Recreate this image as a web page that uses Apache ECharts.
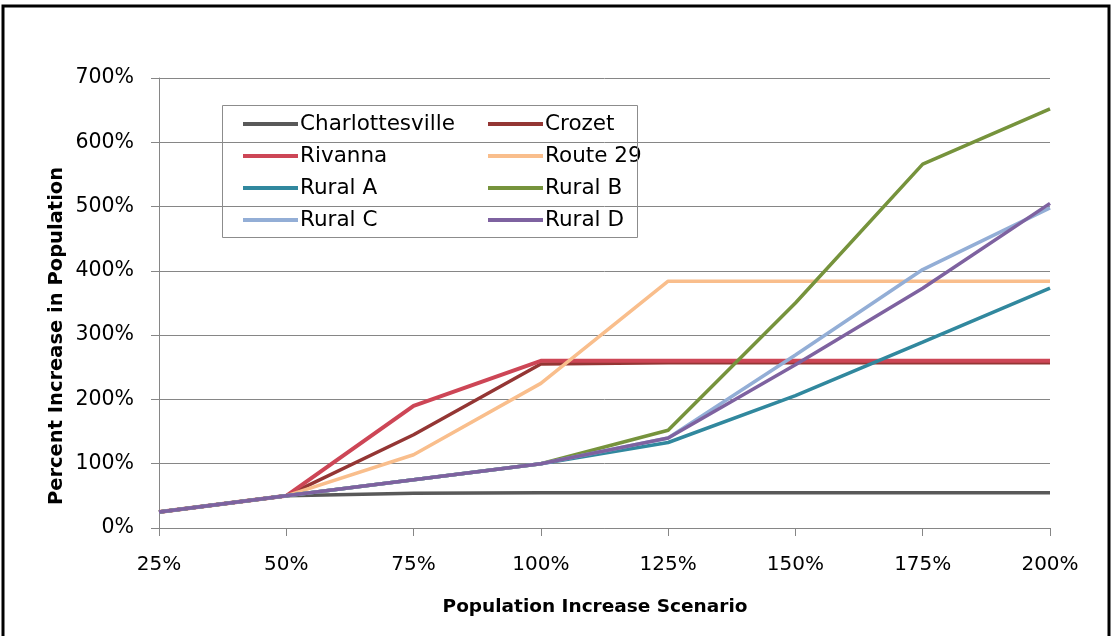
<!DOCTYPE html>
<html>
<head>
<meta charset="utf-8">
<script src="https://cdn.jsdelivr.net/npm/echarts@6/dist/echarts.min.js"></script>
<style>
html,body{margin:0;padding:0;background:#fff;}
#chart{width:1112px;height:636px;}
</style>
</head>
<body>
<div id="chart"></div>
<script>
const categories = ['25%','50%','75%','100%','125%','150%','175%','200%'];
const seriesNames = ['Charlottesville','Crozet','Rivanna','Route 29','Rural A','Rural B','Rural C','Rural D'];
const charlottesville = [25, 50, 54, 55, 55, 55, 55, 55];
const crozet = [25, 50, 145, 255, 257, 257, 257, 257];
const rivanna = [25, 50, 190, 260, 260, 260, 260, 260];
const route29 = [25, 50, 114, 225, 384, 384, 384, 384];
const ruralA = [25, 50, 75, 100, 133, 206, 289, 373];
const ruralB = [25, 50, 75, 100, 152, 350, 566, 652];
const ruralC = [25, 50, 75, 100, 140, 269, 402, 498];
const ruralD = [25, 50, 75, 100, 140, 254, 373, 505];
const yTicks = [0, 100, 200, 300, 400, 500, 600, 700];

const seriesData = [charlottesville, crozet, rivanna, route29, ruralA, ruralB, ruralC, ruralD];
const colors = ['#595959','#943634','#CD4656','#F9BE8C','#31889E','#76933C','#93AED6','#7E62A0'];
const widths = [3.5, 3.5, 4, 3.5, 3.5, 3.5, 3.5, 3.5];
const FONT = '"DejaVu Sans"';

const chart = echarts.init(document.getElementById('chart'));
const legendBase = {
  orient: 'vertical', top: 113, padding: 0,
  icon: 'rect', itemWidth: 55, itemHeight: 4, itemGap: 10,
  textStyle: { color: '#000', fontSize: 21.5, lineHeight: 22, fontFamily: FONT, padding: [0, 0, 0, -3] }
};
const option = {
  backgroundColor: '#ffffff',
  animation: false,
  color: colors,
  grid: { left: 159, right: 62, top: 78, bottom: 108, containLabel: false },
  xAxis: {
    type: 'category',
    data: categories,
    boundaryGap: false,
    axisLine: { lineStyle: { color: '#868686', width: 1 } },
    axisTick: { show: true, length: 8, inside: false, alignWithLabel: true, lineStyle: { color: '#868686' } },
    axisLabel: { color: '#000', fontSize: 20, fontFamily: FONT, margin: 27 },
    splitLine: { show: false }
  },
  yAxis: {
    type: 'value',
    min: yTicks[0],
    max: yTicks[yTicks.length - 1],
    interval: 100,
    axisLine: { show: true, lineStyle: { color: '#868686', width: 1 } },
    axisTick: { show: true, length: 8, lineStyle: { color: '#868686' } },
    axisLabel: { color: '#000', fontSize: 20.5, fontFamily: FONT, margin: 25, formatter: '{value}%' },
    splitLine: { show: true, lineStyle: { color: '#868686', width: 1 } }
  },
  legend: [
    Object.assign({}, legendBase, { left: 243, data: seriesNames.filter((n, i) => i % 2 === 0) }),
    Object.assign({}, legendBase, { left: 488, data: seriesNames.filter((n, i) => i % 2 === 1) })
  ],
  graphic: [
    { type: 'rect', shape: { x: 3, y: 6, width: 1106, height: 700 }, style: { fill: 'none', stroke: '#000', lineWidth: 3 }, silent: true, z: 100 },
    { type: 'rect', shape: { x: 222.5, y: 105.5, width: 415, height: 132 }, style: { fill: 'none', stroke: '#8c8c8c', lineWidth: 1 }, silent: true, z: 100 },
    { type: 'text', x: 57, y: 336, rotation: Math.PI / 2,
      style: { text: 'Percent Increase in Population', fontSize: 19.5, fontWeight: 'bold', fontFamily: FONT, fill: '#000', textAlign: 'center', textVerticalAlign: 'middle' } },
    { type: 'text', x: 595, y: 607,
      style: { text: 'Population Increase Scenario', fontSize: 18.5, fontWeight: 'bold', fontFamily: FONT, fill: '#000', textAlign: 'center', textVerticalAlign: 'middle' } }
  ],
  series: seriesNames.map((name, i) => ({
    name: name,
    type: 'line',
    data: seriesData[i],
    symbol: 'none',
    smooth: false,
    lineStyle: { color: colors[i], width: widths[i] },
    itemStyle: { color: colors[i] },
    z: 2 + i
  }))
};
chart.setOption(option);
</script>
</body>
</html>
